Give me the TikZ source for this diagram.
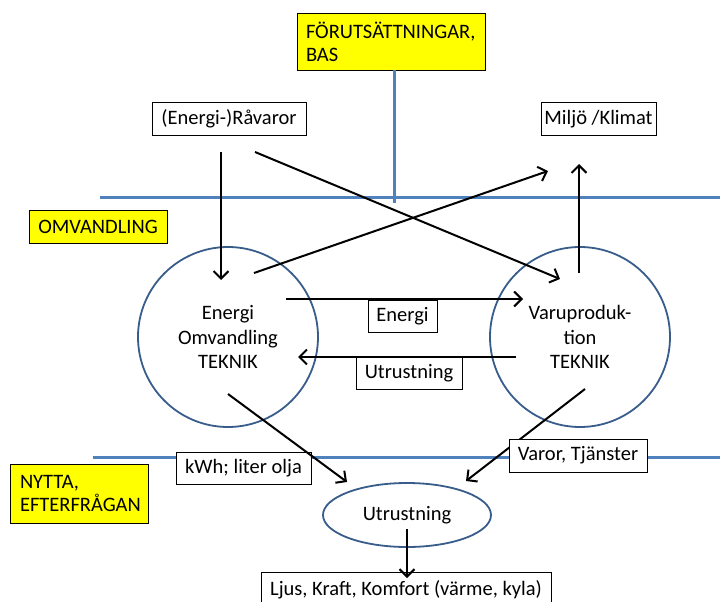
\documentclass[tikz,border=0pt]{standalone}
\usepackage{fontspec}
\setmainfont{Carlito}
\usetikzlibrary{arrows.meta,shapes.geometric}
\definecolor{lineblue}{RGB}{79,129,189}
\definecolor{circblue}{RGB}{56,93,138}
\definecolor{hlyellow}{RGB}{255,255,0}
\tikzset{
  lbl/.style={draw=black, line width=0.8pt, fill=white, inner sep=0pt, font=\fontsize{20.5}{23}\selectfont},
  ylbl/.style={lbl, fill=hlyellow},
  sepline/.style={draw=lineblue, line width=3pt},
  proc/.style={circle, draw=circblue, line width=1.8pt, inner sep=0pt, align=center, font=\fontsize{20.5}{24.5}\selectfont},
  arr/.style={line width=2pt, -{Straight Barb[length=7.5pt,width=15pt,line width=2pt]}}
}
\begin{document}
\begin{tikzpicture}[x=1pt,y=-1pt]
\useasboundingbox (0,0) rectangle (720,602);
\clip (0,0) rectangle (720,602);
\fill[white] (0,0) rectangle (720,602);

% separator lines
\coordinate (t1) at (100,197);
\coordinate (t2) at (720,197);
\coordinate (b1) at (93,457);
\coordinate (b2) at (720,457);
\coordinate (vb) at (394,203);
\draw[sepline] (t1) -- (t2);
\draw[sepline] (b1) -- (b2);

% labels
\node[ylbl, minimum width=188pt, minimum height=57pt, text width=170pt, align=left] (fb) at (391,41.5) {FÖRUTSÄTTNINGAR,\\BAS};
\draw[sepline] (fb.south -| vb) -- (vb);
\node[ylbl, minimum width=138pt, minimum height=33pt] (om) at (98,226.5) {OMVANDLING};
\node[ylbl, minimum width=138pt, minimum height=59pt, text width=118pt, align=left] (ny) at (79,493.5) {NYTTA,\\EFTERFRÅGAN};

\node[lbl, minimum width=154pt, minimum height=33pt] (rv) at (229,118.5) {(Energi-)Råvaror};
\node[lbl, minimum width=115pt, minimum height=33pt] (mk) at (598.5,119) {Miljö /Klimat};

% processes
\node[proc, minimum size=180pt] (ec) at (228,337) {Energi\\Omvandling\\TEKNIK};
\node[proc, minimum size=180pt] (vc) at (580,337) {Varuproduk-\\tion\\TEKNIK};
\node[ellipse, draw=circblue, line width=1.8pt, minimum width=168pt, minimum height=64pt, inner sep=0pt, font=\fontsize{20.5}{24}\selectfont] (ue) at (407,515) {Utrustning};

\node[lbl, minimum width=69pt, minimum height=32pt] (en) at (402.5,316) {Energi};
\node[lbl, minimum width=106pt, minimum height=32pt] (ut) at (409,373) {Utrustning};
\node[lbl, minimum width=135pt, minimum height=32pt] (kw) at (243.5,468) {kWh; liter olja};
\node[lbl, minimum width=290pt, minimum height=36pt] (lj) at (406,590) {Ljus, Kraft, Komfort (värme, kyla)};

% arrow end points
\coordinate (a1s) at (221,152); \coordinate (a1e) at (221,280);
\coordinate (a2s) at (255,152); \coordinate (a2e) at (560,279);
\coordinate (a3s) at (254,273); \coordinate (a3e) at (548,171);
\coordinate (a4s) at (579,273); \coordinate (a4e) at (579,164);
\coordinate (a5s) at (286,299); \coordinate (a5e) at (523,299);
\coordinate (a6s) at (516,357); \coordinate (a6e) at (298,357);
\coordinate (a7s) at (228,394); \coordinate (a7e) at (347,482);
\coordinate (a8s) at (585,389); \coordinate (a8e) at (466,481);
\coordinate (a9s) at (407,529); \coordinate (a9e) at (407,578);

\draw[arr] (a1s) -- (a1e);
\draw[arr] (a2s) -- (a2e);
\draw[arr] (a3s) -- (a3e);
\draw[arr] (a4s) -- (a4e);
\draw[arr] (a5s) -- (a5e);
\draw[arr] (a6s) -- (a6e);
\draw[arr] (a7s) -- (a7e);
\draw[arr] (a8s) -- (a8e);
\draw[arr] (a9s) -- (a9e);

\node[lbl, minimum width=138pt, minimum height=33pt] (vt) at (578,455.5) {Varor, Tjänster};
\end{tikzpicture}
\end{document}
